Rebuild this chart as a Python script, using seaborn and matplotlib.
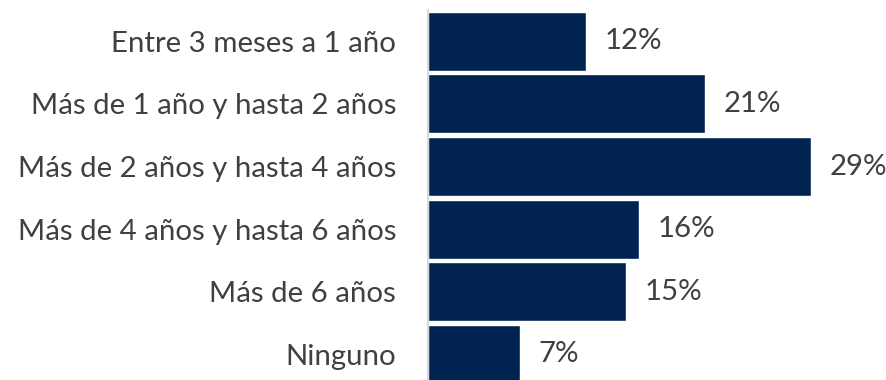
import matplotlib
matplotlib.use("Agg")
import matplotlib.pyplot as plt
import seaborn as sns
import pandas as pd

categorias = [
    "Entre 3 meses a 1 año",
    "Más de 1 año y hasta 2 años",
    "Más de 2 años y hasta 4 años",
    "Más de 4 años y hasta 6 años",
    "Más de 6 años",
    "Ninguno",
]
porcentajes = [12, 21, 29, 16, 15, 7]

df = pd.DataFrame({"categoria": categorias, "pct": porcentajes})

sns.set_theme(style="white")
plt.rcParams["font.family"] = ["Lato", "DejaVu Sans"]

fig = plt.figure(figsize=(8.86, 3.8), dpi=100)
ax = fig.add_axes([428 / 886, 0.0, 1 - 428 / 886, 370 / 380])

color_barra = "#002352"
sns.barplot(data=df, x="pct", y="categoria", orient="h", color=color_barra,
            width=0.94, saturation=1, ax=ax)

ax.set_xlim(0, 34.7)
ax.set_ylim(5.41, -0.5)
ax.set_xlabel("")
ax.set_ylabel("")
ax.set_xticks([])
for s in ["top", "right", "bottom"]:
    ax.spines[s].set_visible(False)
ax.spines["left"].set_color("#d9d9d9")
ax.spines["left"].set_linewidth(1.5)
ax.tick_params(axis="y", length=0, pad=23, labelsize=21.2, labelcolor="#404040")

for i, v in enumerate(porcentajes):
    ax.text(v + 1.4, i, f"{v}%", va="center", ha="left", fontsize=21.2, color="#404040")

fig.savefig("out.png", dpi=100)
